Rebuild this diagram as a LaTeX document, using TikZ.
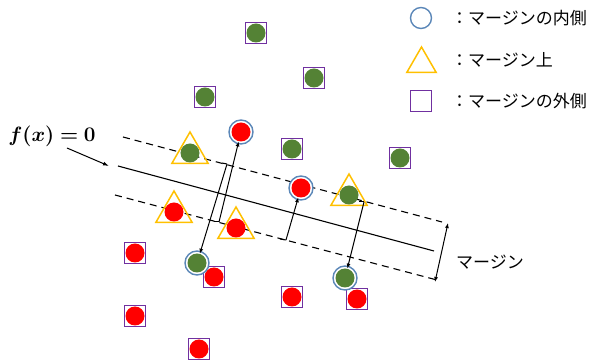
\documentclass[tikz,border=0pt]{standalone}
\usepackage{bm}
\usepackage{fontspec}
\newfontfamily\jpfont{Noto Sans CJK JP}
\usetikzlibrary{shapes.geometric,arrows.meta}
\definecolor{dotgreen}{HTML}{548235}
\definecolor{dotred}{HTML}{FF0000}
\definecolor{sqpurple}{HTML}{7030A0}
\definecolor{triyellow}{HTML}{FFC000}
\definecolor{ringblue}{HTML}{5B87B8}
\begin{document}
\begin{tikzpicture}[x=1pt,y=-1pt,
  gdot/.style={circle,fill=dotgreen,inner sep=0pt,minimum size=19pt},
  rdot/.style={circle,fill=dotred,inner sep=0pt,minimum size=19pt},
  sqmark/.style={rectangle,draw=sqpurple,line width=1.4pt,fill=white,inner sep=0pt,minimum size=21pt},
  trimark/.style={regular polygon,regular polygon sides=3,draw=triyellow,line width=1.5pt,inner sep=0pt,minimum size=42pt},
  ringmark/.style={circle,draw=ringblue,line width=1.4pt,fill=white,inner sep=0pt,minimum size=24pt},
  boundary/.style={line width=1.1pt},
  marginline/.style={line width=1.1pt,dashed,dash pattern=on 7pt off 5pt},
  proj/.style={line width=1pt,-{Latex[length=5pt,width=4pt]}},
  jptext/.style={font=\jpfont\fontsize{17}{17}\selectfont,inner sep=0pt,anchor=west}
]
\useasboundingbox (0,0) rectangle (598,363);

% decision boundary and margins
\coordinate (c1) at (118,166);  \coordinate (c2) at (434,251);
\coordinate (u1) at (123,137);  \coordinate (u2) at (442,222);
\coordinate (l1) at (115,195);  \coordinate (l2) at (437,280);
\draw[boundary] (c1) -- (c2);
\draw[marginline] (u1) -- (u2);
\draw[marginline] (l1) -- (l2);

% outside the margin: green
\foreach \n/\x/\y in {g1/256/33, g2/314/78, g3/205/97, g4/292/149, g5/400/158}{
  \node[sqmark] (s\n) at (\x,\y) {};
  \node[gdot] (\n) at (\x,\y) {};
}
% outside the margin: red
\foreach \n/\x/\y in {r1/135/253, r2/214/277, r3/292/297, r4/357/299, r5/135/316, r6/199/349}{
  \node[sqmark] (s\n) at (\x,\y) {};
  \node[rdot] (\n) at (\x,\y) {};
}
% on the margin
\node[trimark] (tg1) at (190,153) {};
\node[gdot] (g6) at (190,153) {};
\node[trimark] (tr1) at (174,212) {};
\node[rdot] (r7) at (174,212) {};
\node[trimark] (tr2) at (236,228) {};
\node[rdot] (r8) at (236,228) {};
\node[trimark] (tg2) at (349,195) {};
\node[gdot] (g7) at (349,195) {};
% inside the margin
\node[ringmark] (cr1) at (241,132) {};
\node[rdot] (r9) at (241,132) {};
\node[ringmark] (cr2) at (301,188) {};
\node[rdot] (r10) at (301,188) {};
\node[ringmark] (cg1) at (197,263) {};
\node[gdot] (g8) at (197,263) {};
\node[ringmark] (cg2) at (345,278) {};
\node[gdot] (g9) at (345,278) {};

% distances from the margins to the points inside
\coordinate (ta) at (214,222); \coordinate (fa) at (219,222);
\coordinate (tb) at (222,163); \coordinate (fb) at (227,164);
\coordinate (tc) at (280,239); \coordinate (fc) at (286,240);
\coordinate (td) at (359,202); \coordinate (fd) at (364,202);
\draw[line width=1pt] (ta) -- (fa);
\draw[proj] (fa) -- (r9);
\draw[line width=1pt] (tb) -- (fb);
\draw[proj] (fb) -- (g8);
\draw[line width=1pt] (tc) -- (fc);
\draw[proj] (fc) -- (r10);
\draw[line width=1pt] (td) -- (fd);
\draw[proj] (fd) -- (g9);

% margin width
\coordinate (m1) at (448,223);
\coordinate (m2) at (435,282);
\draw[line width=1pt,{Latex[length=5pt,width=4pt]}-{Latex[length=5pt,width=4pt]}] (m1) -- (m2);
\node[jptext] (mlabel) at (456,262) {マージン};

% label of the boundary
\node[font=\fontsize{21}{21}\selectfont,inner sep=0pt] (flabel) at (52,136) {$\bm{f(x)=0}$};
\coordinate (fa1) at (67,148);
\coordinate (fa2) at (109,166);
\draw[line width=1pt,-{Latex[length=6pt,width=4pt]}] (fa1) -- (fa2);

% legend
\node[circle,draw=ringblue,line width=1.4pt,inner sep=0pt,minimum size=21pt] (lg1) at (421,18) {};
\node[jptext] (lt1) at (451,18) {：マージンの内側};
\node[regular polygon,regular polygon sides=3,draw=triyellow,line width=1.5pt,inner sep=0pt,minimum size=34pt] (lg2) at (421.5,64) {};
\node[jptext] (lt2) at (451,60) {：マージン上};
\node[rectangle,draw=sqpurple,line width=1.4pt,inner sep=0pt,minimum size=21pt] (lg3) at (421,101) {};
\node[jptext] (lt3) at (451,101) {：マージンの外側};
\end{tikzpicture}
\end{document}
